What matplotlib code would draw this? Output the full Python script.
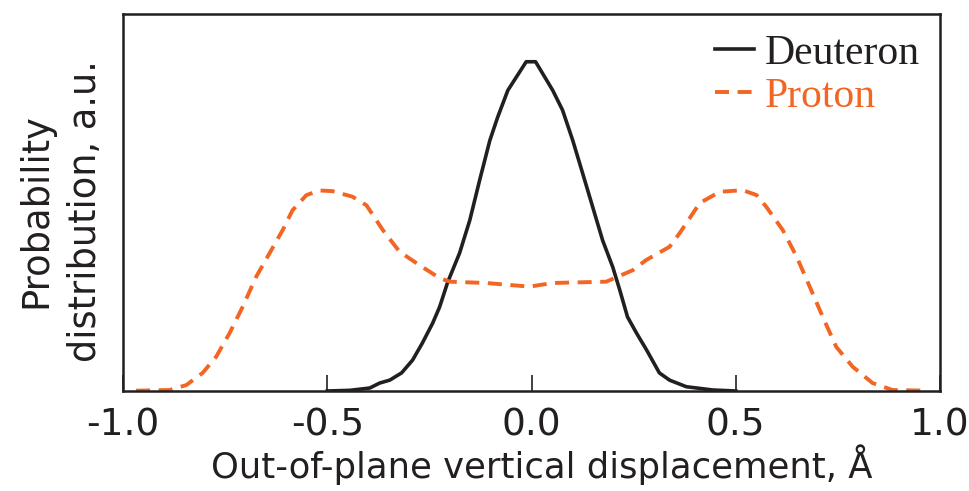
import matplotlib
matplotlib.use("Agg")
import matplotlib.pyplot as plt

# deuteron distribution (solid black)
d_x = [-0.50, -0.445, -0.396, -0.372, -0.347, -0.318, -0.291, -0.267, -0.242, -0.225,
       -0.205, -0.176, -0.151, -0.127, -0.102, -0.083, -0.058, -0.013, 0.010, 0.052,
       0.076, 0.101, 0.125, 0.150, 0.174, 0.199, 0.216, 0.235, 0.257, 0.282,
       0.313, 0.338, 0.379, 0.444, 0.50]
d_y = [0.0, 0.002, 0.009, 0.024, 0.033, 0.055, 0.094, 0.146, 0.206, 0.255,
       0.331, 0.419, 0.519, 0.640, 0.761, 0.831, 0.913, 1.0, 1.0, 0.913,
       0.853, 0.761, 0.662, 0.558, 0.458, 0.376, 0.307, 0.225, 0.176, 0.124,
       0.055, 0.033, 0.013, 0.003, 0.0]

# proton distribution (dashed orange)
p_x = [-0.968, -0.886, -0.845, -0.805, -0.772, -0.739, -0.707, -0.674, -0.641, -0.609,
       -0.585, -0.551, -0.519, -0.487, -0.438, -0.404, -0.364, -0.323, -0.274, -0.225,
       -0.200, -0.111, -0.005, 0.052, 0.183, 0.248, 0.281, 0.338, 0.363, 0.412,
       0.461, 0.517, 0.551, 0.575, 0.615, 0.649, 0.681, 0.713, 0.746, 0.786,
       0.835, 0.884, 0.967]
p_y = [0.001, 0.003, 0.018, 0.055, 0.104, 0.176, 0.256, 0.347, 0.419, 0.489,
       0.549, 0.595, 0.609, 0.607, 0.590, 0.564, 0.489, 0.423, 0.382, 0.343,
       0.332, 0.328, 0.317, 0.328, 0.332, 0.367, 0.398, 0.438, 0.480, 0.571,
       0.605, 0.610, 0.595, 0.559, 0.489, 0.408, 0.317, 0.225, 0.134, 0.074,
       0.024, 0.003, 0.001]

xticks = [-1.0, -0.5, 0.0, 0.5, 1.0]
xtick_labels = ["-1.0", "-0.5", "0.0", "0.5", "1.0"]

black = "#231f20"
orange = "#f26522"

fig = plt.figure(figsize=(9.69, 4.91), dpi=100)
ax = fig.add_axes([123/969, 1 - 391/491, (940 - 123)/969, (391 - 14)/491])

ax.plot(d_x, d_y, color=black, lw=2.6, label="Deuteron")
ax.plot(p_x, p_y, color=orange, lw=2.8, dashes=(3.6, 2.2), label="Proton")

ax.set_xlim(-1, 1)
ax.set_ylim(0, 1.145)
ax.set_yticks([])
ax.set_xticks(xticks)
ax.set_xticklabels(xtick_labels)
ax.tick_params(axis="x", direction="in", length=11.5, width=1.2, color=black,
               labelsize=27, labelcolor=black, pad=12)
for s in ax.spines.values():
    s.set_linewidth(1.8)
    s.set_color(black)

ax.set_xlabel("Out-of-plane vertical displacement, Å", fontsize=25.5, color=black)
ax.xaxis.set_label_coords(0.513, -(485 - 391) / 377)
ax.xaxis.label.set_va("bottom")

ax.set_ylabel("Probability\ndistribution, a.u.", fontsize=26.5, color=black,
              linespacing=1.42)
ax.yaxis.set_label_coords(-(123 - 104) / 817, 1 - (211 - 14) / 377)

leg = ax.legend(loc="upper right", bbox_to_anchor=((920 - 123) / 817, 1 - (34 - 14) / 377),
                frameon=False, borderaxespad=0, borderpad=0,
                prop={"family": "Liberation Serif", "size": 30},
                handlelength=0.95, handletextpad=0.25, labelspacing=0.12,
                labelcolor="linecolor")

fig.savefig("out.png", dpi=100)
